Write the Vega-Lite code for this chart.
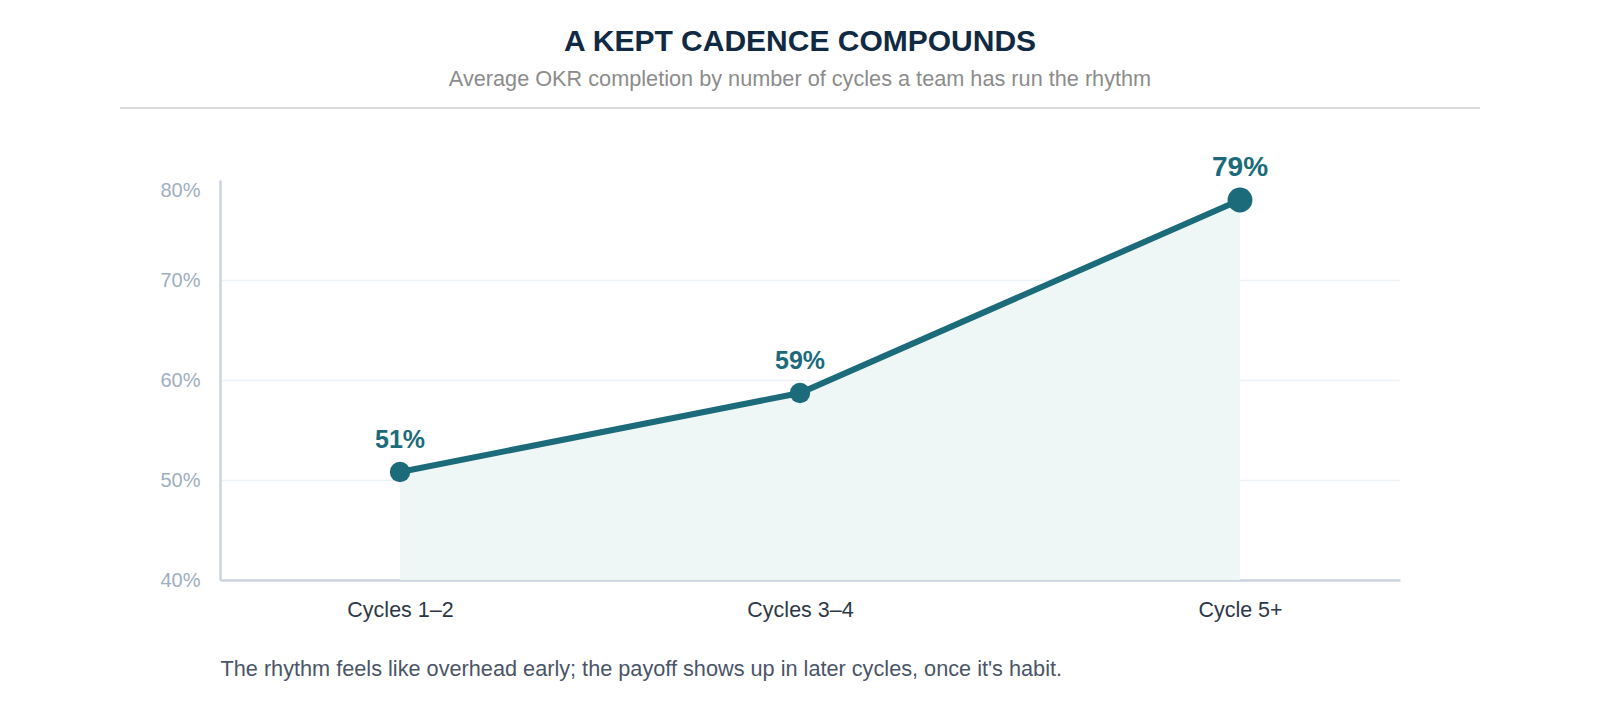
{
  "$schema": "https://vega.github.io/schema/vega-lite/v6.json",
  "autosize": "none",
  "width": 1180,
  "height": 400,
  "padding": {"left": 220, "top": 180, "right": 200, "bottom": 140},
  "background": "#ffffff",
  "config": {
    "font": "Liberation Sans",
    "view": {"stroke": null}
  },
  "title": {
    "text": "A KEPT CADENCE COMPOUNDS",
    "subtitle": "Average OKR completion by number of cycles a team has run the rhythm",
    "anchor": "middle",
    "dx": -10,
    "offset": 16,
    "fontSize": 30,
    "fontWeight": "bold",
    "color": "#102a43",
    "subtitleFontSize": 21.7,
    "subtitleColor": "#8c8c8c",
    "subtitlePadding": 12
  },
  "data": {
    "values": [
      {"stage": "Cycles 1–2", "cycles": 1.5, "value": 50.8, "label": "51%"},
      {"stage": "Cycles 3–4", "cycles": 3.5, "value": 58.7, "label": "59%"},
      {"stage": "Cycle 5+", "cycles": 5.7, "value": 78.0, "label": "79%"}
    ]
  },
  "encoding": {
    "x": {
      "field": "cycles",
      "type": "quantitative",
      "scale": {"domain": [0.6, 6.5], "nice": false, "zero": false},
      "axis": {
        "values": [1.5, 3.5, 5.7],
        "labelExpr": "datum.value == 1.5 ? 'Cycles 1–2' : datum.value == 3.5 ? 'Cycles 3–4' : 'Cycle 5+'",
        "grid": false,
        "ticks": false,
        "tickSize": 0,
        "labelPadding": 19,
        "labelFontSize": 21.5,
        "labelColor": "#2d3748",
        "domainColor": "#cbd5e0",
        "domainWidth": 2.5,
        "title": "The rhythm feels like overhead early; the payoff shows up in later cycles, once it's habit.",
        "titleX": 0,
        "titleY": 95,
        "titleAlign": "left",
        "titleAnchor": "start",
        "titleBaseline": "alphabetic",
        "titleFontSize": 21.7,
        "titleFontWeight": "normal",
        "titleColor": "#4a5568"
      }
    },
    "y": {
      "field": "value",
      "type": "quantitative",
      "scale": {"domain": [40, 80], "nice": false, "zero": false},
      "axis": {
        "values": [40, 50, 60, 70, 80],
        "labelExpr": "datum.value + '%'",
        "title": null,
        "ticks": false,
        "tickSize": 0,
        "labelPadding": 20,
        "labelFontSize": 20,
        "labelColor": "#a0aec0",
        "labelOffset": {"condition": {"test": "datum.value == 80", "value": 10}, "value": 0},
        "domainColor": "#cbd5e0",
        "domainWidth": 2.5,
        "grid": true,
        "gridColor": "#edf2f7",
        "gridWidth": 1.5,
        "gridOpacity": {"condition": {"test": "datum.value == 80 || datum.value == 40", "value": 0}, "value": 1}
      }
    }
  },
  "layer": [
    {
      "mark": {"type": "area", "color": "#eff6f6", "opacity": 1},
      "encoding": {"y2": {"datum": 40}}
    },
    {
      "mark": {"type": "line", "color": "#1b6b7b", "strokeWidth": 6}
    },
    {
      "mark": {"type": "point", "filled": true, "opacity": 1, "color": "#1b6b7b", "shape": "circle"},
      "encoding": {
        "size": {"condition": {"test": "datum.stage === 'Cycle 5+'", "value": 620}, "value": 415}
      }
    },
    {
      "mark": {"type": "text", "color": "#1b6b7b", "fontWeight": "bold", "baseline": "alphabetic", "align": "center", "dy": -24},
      "encoding": {
        "text": {"field": "label"},
        "size": {"condition": {"test": "datum.stage === 'Cycle 5+'", "value": 28}, "value": 25}
      }
    },
    {
      "data": {"values": [{"x1": 0.1, "x2": 6.9, "y": 87.2}]},
      "mark": {"type": "rule", "color": "#dddddd", "strokeWidth": 2},
      "encoding": {
        "x": {"field": "x1", "type": "quantitative"},
        "x2": {"field": "x2"},
        "y": {"field": "y", "type": "quantitative"}
      }
    }
  ]
}
